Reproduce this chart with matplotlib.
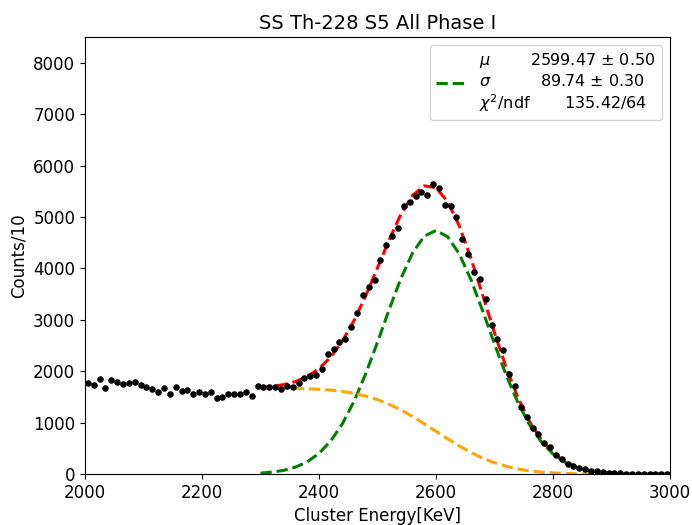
import matplotlib
matplotlib.use("Agg")
import matplotlib.pyplot as plt

# Data points (bin centres, counts per 10 keV)
energy = list(range(2005, 3000, 10))
counts = [
    1776, 1731, 1848, 1680, 1822, 1783, 1751, 1776, 1783, 1725,
    1699, 1654, 1595, 1667, 1550, 1693, 1615, 1634, 1556, 1589,
    1556, 1602, 1485, 1492, 1550, 1550, 1550, 1589, 1511, 1712,
    1699, 1686, 1686, 1647, 1718, 1693, 1776, 1868, 1910, 1920,
    2036, 2330, 2430, 2567, 2628, 2860, 3125, 3480, 3645, 3772,
    4172, 4447, 4632, 4789, 5215, 5289, 5413, 5491, 5419, 5640,
    5556, 5241, 5208, 4990, 4575, 4275, 3935, 3795, 3405, 2904,
    2626, 2408, 1955, 1715, 1312, 1105, 886, 783, 610, 520,
    370, 286, 195, 150, 111, 103, 64, 50, 35, 25,
    18, 12, 8, 6, 4, 3, 2, 1, 1, 0,
]

# Fit curves
curve_e = list(range(2300, 3001, 20))
total_fit = [
    1687, 1705, 1739, 1799, 1896, 2049, 2273, 2584, 2986, 3470,
    4009, 4557, 5050, 5419, 5605, 5568, 5299, 4822, 4190, 3476,
    2748, 2072, 1488, 1017, 663, 411, 243, 136, 73, 37,
    17, 8, 4, 1, 1, 0,
]
gauss_fit = [
    18, 37, 72, 135, 238, 401, 641, 977, 1416, 1953,
    2563, 3201, 3803, 4300, 4627, 4737, 4615, 4278, 3773, 3167,
    2529, 1922, 1390, 956, 626, 390, 231, 130, 70, 36,
    17, 8, 4, 1, 1, 0,
]
bkg_fit = [
    1669, 1668, 1667, 1664, 1658, 1648, 1632, 1607, 1570, 1517,
    1446, 1356, 1247, 1119, 978, 831, 684, 544, 417, 309,
    219, 150, 98, 61, 37, 21, 12, 6, 3, 1,
    0, 0, 0, 0, 0, 0,
]

legend_label = ("$\\mu$        2599.47 $\\pm$ 0.50\n"
                "$\\sigma$          89.74 $\\pm$ 0.30\n"
                "$\\chi^2$/ndf       135.42/64")

fig = plt.figure(figsize=(6.92, 5.25), dpi=100)
ax = fig.add_axes([0.1228, 0.0971, 0.8454, 0.8324])

ax.plot(curve_e, total_fit, color="red", ls="--", lw=2.2, zorder=2)
g_line, = ax.plot(curve_e, gauss_fit, color="green", ls="--", lw=2.2, zorder=2)
ax.plot(curve_e, bkg_fit, color="orange", ls="--", lw=2.2, zorder=2)
ax.plot(energy, counts, "o", color="black", ms=3.7, zorder=3)

ax.set_xlim(2000, 3000)
ax.set_ylim(0, 8500)
ax.set_xticks([2000, 2200, 2400, 2600, 2800, 3000])
ax.set_yticks(range(0, 8001, 1000))
ax.tick_params(labelsize=12)
ax.set_xlabel("Cluster Energy[KeV]", fontsize=12)
ax.set_ylabel("Counts/10", fontsize=12)
ax.set_title("SS Th-228 S5 All Phase I", fontsize=14)

ax.legend([g_line], [legend_label], loc="upper right", fontsize=11.5,
          handlelength=1.9)

fig.savefig("out.png", dpi=100)
